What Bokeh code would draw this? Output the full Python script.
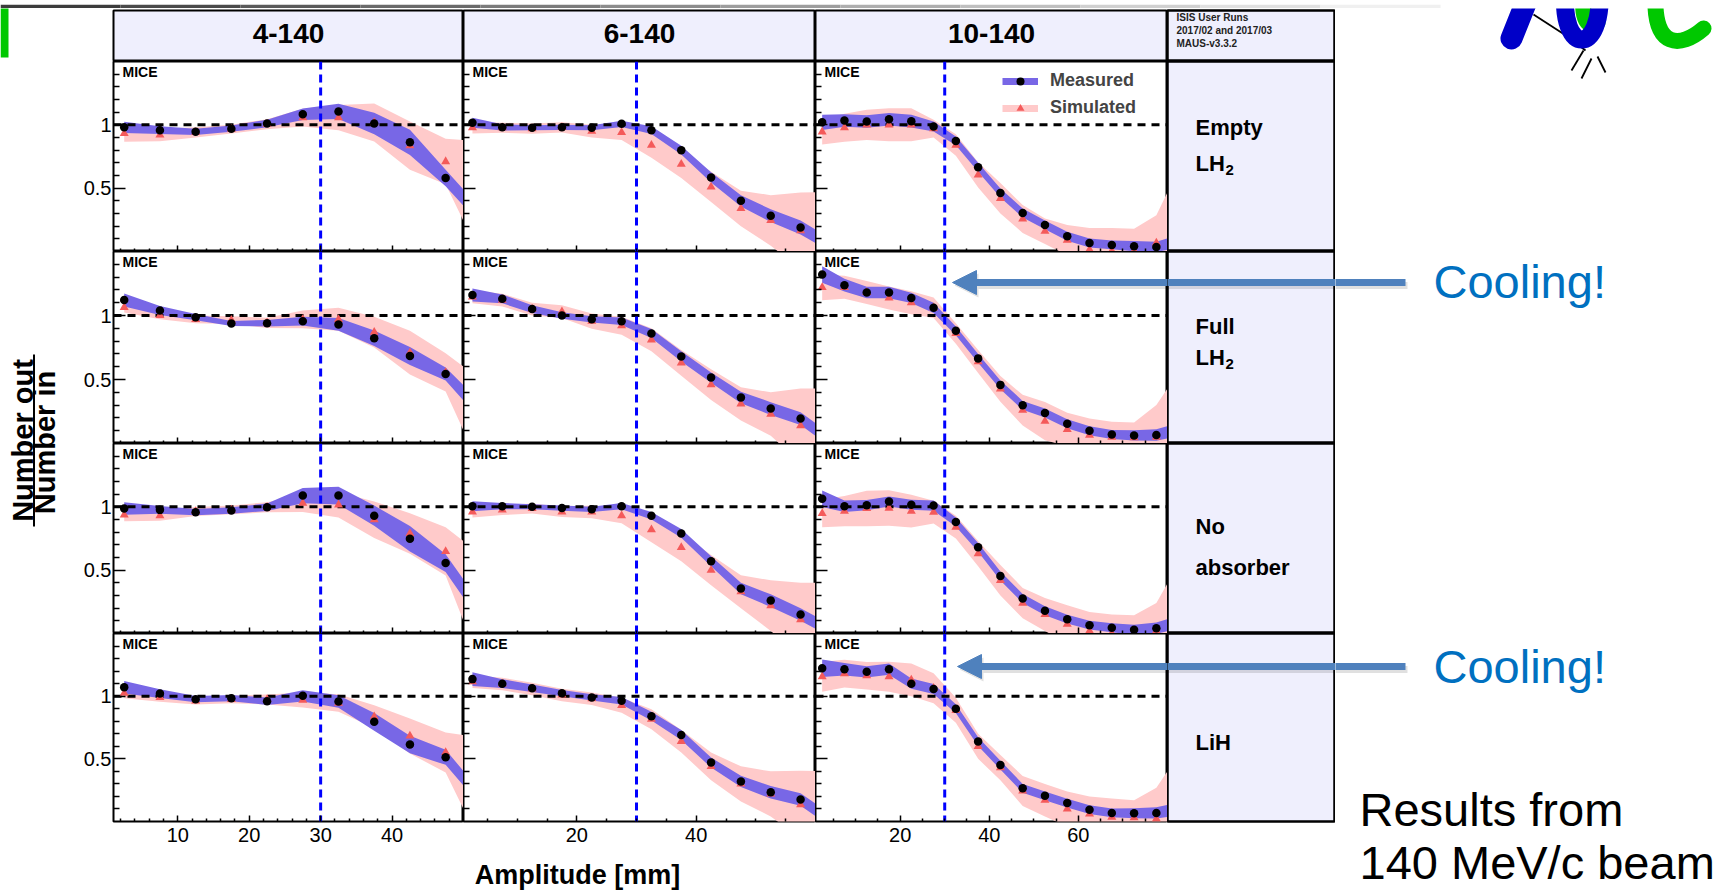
import numpy as np
from math import pi
from bokeh.plotting import figure
from bokeh.layouts import row, column
from bokeh.models import (Range1d, FixedTicker, CustomJSTickFormatter, Span, Label,
                          Arrow, NormalHead, Legend, LegendItem)
from bokeh.embed import file_html
from bokeh.resources import INLINE

# ---------------- data ----------------
column_titles = ["4-140", "6-140", "10-140"]
row_titles = [["Empty", "LH"], ["Full", "LH"], ["No", "absorber"], ["LiH"]]
row_subscripts = ["2", "2", "", ""]
header_note = ["ISIS User Runs", "2017/02 and 2017/03", "MAUS-v3.3.2"]

amp_4 = [2.5, 7.5, 12.5, 17.5, 22.5, 27.5, 32.5, 37.5, 42.5, 47.5, 52.5]
amp_6 = [2.5, 7.5, 12.5, 17.5, 22.5, 27.5, 32.5, 37.5, 42.5, 47.5, 52.5, 57.5, 62.5]
amp_10 = [2.5, 7.5, 12.5, 17.5, 22.5, 27.5, 32.5, 37.5, 42.5, 47.5, 52.5, 57.5,
          62.5, 67.5, 72.5, 77.5, 82.5]

# rows: Empty LH2, Full LH2, No absorber, LiH
meas_4 = [
    [0.98, 0.958, 0.945, 0.97, 1.01, 1.083, 1.106, 1.01, 0.862, 0.58, 0.27],
    [1.121, 1.039, 0.987, 0.938, 0.94, 0.956, 0.93, 0.822, 0.683, 0.543, 0.247],
    [0.987, 0.976, 0.958, 0.971, 0.997, 1.089, 1.089, 0.93, 0.748, 0.556, 0.154],
    [1.071, 1.021, 0.976, 0.984, 0.96, 1.003, 0.958, 0.795, 0.614, 0.512, 0.178],
]
meas_err_4 = [
    [0.045, 0.03, 0.025, 0.025, 0.03, 0.045, 0.06, 0.085, 0.1, 0.065, 0.065],
    [0.05, 0.035, 0.025, 0.02, 0.025, 0.035, 0.05, 0.06, 0.07, 0.05, 0.07],
    [0.05, 0.03, 0.025, 0.025, 0.03, 0.06, 0.07, 0.08, 0.1, 0.07, 0.075],
    [0.05, 0.035, 0.025, 0.025, 0.03, 0.045, 0.05, 0.07, 0.07, 0.06, 0.055],
]
sim_4 = [
    [0.932, 0.92, 0.94, 0.966, 1.005, 1.057, 1.057, 1.018, 0.836, 0.71, 0.41],
    [1.064, 1.0, 0.97, 0.964, 0.943, 0.97, 0.97, 0.87, 0.71, 0.556, 0.144],
    [0.937, 0.93, 0.963, 0.976, 0.997, 1.029, 1.016, 0.898, 0.79, 0.648, 0.18],
    [1.024, 0.99, 0.963, 0.974, 0.974, 0.969, 0.945, 0.837, 0.682, 0.551, 0.24],
]
sim_err_4 = [
    [0.065, 0.05, 0.04, 0.035, 0.04, 0.07, 0.1, 0.15, 0.19, 0.18, 0.46],
    [0.04, 0.03, 0.03, 0.03, 0.04, 0.07, 0.09, 0.12, 0.17, 0.15, 0.35],
    [0.05, 0.04, 0.035, 0.035, 0.04, 0.07, 0.1, 0.145, 0.16, 0.19, 0.44],
    [0.04, 0.035, 0.03, 0.03, 0.04, 0.06, 0.07, 0.09, 0.14, 0.16, 0.43],
]

meas_6 = [
    [1.016, 0.98, 0.977, 0.98, 0.977, 1.008, 0.958, 0.80, 0.585, 0.40, 0.283, 0.19, 0.05],
    [1.16, 1.13, 1.05, 1.0, 0.97, 0.955, 0.86, 0.68, 0.515, 0.36, 0.273, 0.195, 0.025],
    [1.005, 1.005, 1.0, 0.99, 0.98, 1.005, 0.93, 0.79, 0.57, 0.355, 0.26, 0.15, 0.024],
    [1.136, 1.10, 1.063, 1.024, 0.99, 0.963, 0.84, 0.69, 0.47, 0.32, 0.233, 0.176, 0.01],
]
meas_err_6 = [
    [0.04, 0.025, 0.02, 0.02, 0.02, 0.025, 0.03, 0.035, 0.04, 0.045, 0.05, 0.055, 0.05],
    [0.05, 0.035, 0.03, 0.025, 0.025, 0.03, 0.035, 0.04, 0.04, 0.045, 0.05, 0.05, 0.05],
    [0.04, 0.025, 0.02, 0.02, 0.02, 0.025, 0.03, 0.035, 0.04, 0.045, 0.05, 0.05, 0.05],
    [0.055, 0.035, 0.03, 0.025, 0.025, 0.03, 0.035, 0.04, 0.04, 0.045, 0.05, 0.05, 0.05],
]
sim_6 = [
    [0.977, 0.977, 0.97, 0.98, 0.95, 0.94, 0.84, 0.69, 0.51, 0.34, 0.245, 0.165, 0.1],
    [1.145, 1.12, 1.05, 1.03, 0.956, 0.92, 0.81, 0.63, 0.46, 0.31, 0.23, 0.14, 0.08],
    [0.96, 0.975, 0.987, 0.96, 0.96, 0.93, 0.82, 0.68, 0.50, 0.33, 0.22, 0.11, 0.08],
    [1.115, 1.097, 1.058, 1.01, 0.98, 0.927, 0.816, 0.64, 0.44, 0.30, 0.22, 0.134, 0.08],
]
sim_err_6 = [
    [0.045, 0.04, 0.04, 0.04, 0.05, 0.06, 0.1, 0.11, 0.12, 0.14, 0.2, 0.3, 0.37],
    [0.05, 0.05, 0.05, 0.05, 0.06, 0.07, 0.09, 0.1, 0.12, 0.13, 0.17, 0.29, 0.35],
    [0.045, 0.04, 0.04, 0.04, 0.05, 0.06, 0.1, 0.11, 0.12, 0.13, 0.2, 0.29, 0.32],
    [0.05, 0.05, 0.05, 0.05, 0.05, 0.06, 0.08, 0.09, 0.11, 0.14, 0.18, 0.27, 0.32],
]

meas_10 = [
    [1.02, 1.034, 1.026, 1.044, 1.029, 0.987, 0.873, 0.665, 0.462, 0.304, 0.21, 0.12,
     0.067, 0.052, 0.042, 0.036, 0.08],
    [1.32, 1.237, 1.18, 1.18, 1.137, 1.06, 0.88, 0.665, 0.458, 0.298, 0.239, 0.154,
     0.10, 0.071, 0.063, 0.066, 0.11],
    [1.063, 1.005, 1.013, 1.042, 1.016, 1.01, 0.88, 0.68, 0.454, 0.276, 0.18, 0.113,
     0.066, 0.045, 0.029, 0.042, 0.09],
    [1.223, 1.215, 1.194, 1.215, 1.10, 1.058, 0.90, 0.638, 0.45, 0.265, 0.205, 0.147,
     0.094, 0.068, 0.066, 0.068, 0.1],
]
meas_err_10 = [
    [0.06, 0.05, 0.05, 0.05, 0.05, 0.04, 0.035, 0.035, 0.035, 0.035, 0.035, 0.035,
     0.035, 0.035, 0.04, 0.04, 0.05],
    [0.065, 0.05, 0.045, 0.045, 0.04, 0.04, 0.035, 0.035, 0.035, 0.035, 0.035, 0.035,
     0.035, 0.035, 0.04, 0.045, 0.05],
    [0.065, 0.045, 0.04, 0.04, 0.04, 0.04, 0.035, 0.035, 0.035, 0.035, 0.035, 0.035,
     0.035, 0.035, 0.04, 0.045, 0.05],
    [0.07, 0.05, 0.045, 0.045, 0.04, 0.04, 0.035, 0.035, 0.035, 0.035, 0.035, 0.035,
     0.035, 0.035, 0.04, 0.045, 0.05],
]
sim_10 = [
    [0.945, 0.977, 1.0, 1.0, 1.0, 0.97, 0.84, 0.605, 0.42, 0.257, 0.16, 0.09,
     0.015, 0.005, 0.005, 0.067, 0.1],
    [1.22, 1.22, 1.18, 1.137, 1.10, 1.06, 0.86, 0.64, 0.427, 0.26, 0.175, 0.11,
     0.066, 0.05, 0.045, 0.05, 0.1],
    [0.948, 0.966, 0.987, 0.99, 0.966, 0.958, 0.84, 0.63, 0.42, 0.24, 0.15, 0.073,
     0.02, 0.0, 0.0, 0.02, 0.05],
    [1.155, 1.18, 1.163, 1.155, 1.13, 1.063, 0.887, 0.60, 0.43, 0.244, 0.17, 0.10,
     0.06, 0.034, 0.03, 0.02, 0.05],
]
sim_err_10 = [
    [0.1, 0.11, 0.12, 0.13, 0.13, 0.07, 0.085, 0.1, 0.12, 0.11, 0.1, 0.12,
     0.17, 0.18, 0.175, 0.22, 0.55],
    [0.1, 0.09, 0.09, 0.09, 0.09, 0.08, 0.08, 0.09, 0.1, 0.12, 0.15, 0.13,
     0.13, 0.12, 0.12, 0.25, 0.46],
    [0.11, 0.12, 0.14, 0.14, 0.13, 0.09, 0.09, 0.1, 0.12, 0.12, 0.13, 0.15,
     0.15, 0.15, 0.144, 0.22, 0.5],
    [0.12, 0.11, 0.11, 0.12, 0.13, 0.12, 0.1, 0.1, 0.1, 0.12, 0.13, 0.14,
     0.14, 0.15, 0.14, 0.25, 0.48],
]

x_ranges = [(1, 50), (1, 60), (1, 80)]
x_major = [[10, 20, 30, 40], [20, 40], [20, 40, 60]]
x_minor = [[2, 4, 6, 8, 12, 14, 16, 18, 22, 24, 26, 28, 32, 34, 36, 38, 42, 44, 46, 48],
           [5, 10, 15, 25, 30, 35, 45, 50, 55],
           [5, 10, 15, 25, 30, 35, 45, 50, 55, 65, 70, 75]]
y_major = [0.5, 1.0]
y_minor = [0.1, 0.2, 0.3, 0.4, 0.6, 0.7, 0.8, 0.9, 1.1, 1.2, 1.3, 1.4]
ratio_reference = 1.0
amplitude_reference = 30

amps = [amp_4, amp_6, amp_10]
meas_all = [meas_4, meas_6, meas_10]
meas_err_all = [meas_err_4, meas_err_6, meas_err_10]
sim_all = [sim_4, sim_6, sim_10]
sim_err_all = [sim_err_4, sim_err_6, sim_err_10]

# ---------------- style ----------------
PINK = "#ffcaca"
BLUE = "#7867e6"
RED = "#f45a5a"
LAVENDER = "#efeffd"
ARROW = "#4f81bd"
COOL = "#0070c0"
GREEN = "#00c800"
FONT = "Liberation Sans"

PAGE_W = 1722
TOP_H = 8
LEFT_W = 73
C1_BORDER = 40
FRAME_W = [350, 352, 352]
LAB_W = 168
RIGHT_W = PAGE_W - LEFT_W - C1_BORDER - sum(FRAME_W) - LAB_W
HEAD_H = 53
ROW_H = [190, 192, 190, 188]
BOTTOM_AX = 36
TITLE_H = 34
BODY_H = HEAD_H + sum(ROW_H) + BOTTOM_AX + TITLE_H


def blank(width, height, xr, yr, **kw):
    p = figure(width=width, height=height, x_range=Range1d(*xr), y_range=Range1d(*yr),
               x_axis_location=None, y_axis_location=None,
               output_backend="svg", toolbar_location=None, **kw)
    p.grid.visible = False
    p.border_fill_color = "white"
    return p


def add_arrow_piece(p, x0, x1, y, units="data", head=False, shadow_dy=3):
    kw = dict(start_units=units, end_units=units)
    sh = NormalHead(size=24, fill_color="black", fill_alpha=0.12, line_color=None) if head else None
    p.add_layout(Arrow(x_start=x0 + 2, y_start=y + shadow_dy, x_end=x1 + 2, y_end=y + shadow_dy,
                       line_color="black", line_alpha=0.12, line_width=7, end=sh, **kw))
    hd = NormalHead(size=24, fill_color=ARROW, line_color=ARROW) if head else None
    p.add_layout(Arrow(x_start=x0, y_start=y, x_end=x1, y_end=y, line_color=ARROW,
                       line_width=7, end=hd, **kw))


def make_panel(ci, ri):
    left = ci == 0
    bottom = ri == 3
    fw, fh = FRAME_W[ci], ROW_H[ri]
    p = figure(width=fw + (C1_BORDER if left else 0), height=fh + (BOTTOM_AX if bottom else 0),
               x_range=Range1d(*x_ranges[ci]), y_range=Range1d(0.0, 1.5),
               min_border_left=C1_BORDER if left else 0, min_border_right=0,
               min_border_top=0, min_border_bottom=BOTTOM_AX if bottom else 0,
               output_backend="svg", toolbar_location=None)
    p.grid.visible = False
    p.outline_line_color = "black"
    p.outline_line_width = 2
    p.border_fill_color = "white"
    p.background_fill_color = "white"

    x = np.array(amps[ci])
    m = np.array(meas_all[ci][ri]); me = np.array(meas_err_all[ci][ri])
    s = np.array(sim_all[ci][ri]); se = np.array(sim_err_all[ci][ri])

    p.varea(x=x, y1=s - se, y2=s + se, fill_color=PINK, level="image")
    p.varea(x=x, y1=m - me, y2=m + me, fill_color=BLUE, level="image")
    p.add_layout(Span(location=ratio_reference, dimension="width", line_color="black",
                      line_dash="8 6", line_width=3, level="underlay"))
    p.add_layout(Span(location=amplitude_reference, dimension="height", line_color="#0000ff",
                      line_dash="8 5", line_width=3, level="underlay"))
    sim_r = p.scatter(x, s, marker="triangle", size=9, fill_color=RED, line_color=None)
    meas_r = p.scatter(x, m, marker="circle", size=8.5, fill_color="black", line_color=None)

    empty = CustomJSTickFormatter(code="return ''")
    plain = CustomJSTickFormatter(code="return tick.toString()")
    xa, ya = p.xaxis[0], p.yaxis[0]
    xa.ticker = FixedTicker(ticks=x_major[ci], minor_ticks=x_minor[ci])
    ya.ticker = FixedTicker(ticks=y_major, minor_ticks=y_minor)
    for ax in (xa, ya):
        ax.axis_line_color = None
        ax.major_tick_out = 0
        ax.minor_tick_out = 0
        ax.major_tick_line_color = "black"
        ax.minor_tick_line_color = "black"
        ax.major_tick_line_width = 1.5
        ax.minor_tick_line_width = 1.5
        ax.major_label_text_font = FONT
        ax.major_label_text_font_size = "20px"
        ax.major_label_text_color = "black"
    ya.major_tick_in = 12
    ya.minor_tick_in = 6
    xa.major_tick_in = 6
    xa.minor_tick_in = 3
    if bottom:
        xa.formatter = plain
        xa.major_label_standoff = 6
    else:
        xa.formatter = empty
        xa.major_label_standoff = 0
    if left:
        ya.formatter = plain
        ya.major_label_standoff = 2
    else:
        ya.formatter = empty
        ya.major_label_standoff = 0

    p.add_layout(Label(x=9, y=fh - 10, x_units="screen", y_units="screen", text="MICE",
                       text_font=FONT, text_font_style="bold", text_font_size="14px",
                       text_color="black", text_baseline="alphabetic"))

    if ci == 2 and ri == 0:
        band_m = p.line(x=np.array([np.nan]), y=np.array([np.nan]), line_color=BLUE, line_width=7)
        band_s = p.line(x=np.array([np.nan]), y=np.array([np.nan]), line_color=PINK, line_width=7)
        legend = Legend(items=[LegendItem(label="Measured", renderers=[band_m, meas_r]),
                               LegendItem(label="Simulated", renderers=[band_s, sim_r])],
                        location=(187, 133), border_line_color=None,
                        background_fill_alpha=0, padding=0, margin=0, spacing=6,
                        glyph_width=36, glyph_height=20, label_height=20,
                        label_standoff=12, label_text_font=FONT,
                        label_text_font_style="bold", label_text_font_size="18px")
        p.add_layout(legend)
    if ci == 2 and ri in (1, 3):
        y_arrow = 161 if ri == 1 else 155
        x_tip = 137 if ri == 1 else 142
        add_arrow_piece(p, fw + 2, x_tip, y_arrow, units="screen", head=True, shadow_dy=-3)
    return p


def make_header(ci):
    left = ci == 0
    fw = FRAME_W[ci]
    p = blank(fw + (C1_BORDER if left else 0), HEAD_H, (0, fw), (HEAD_H - 2, 0),
              min_border_left=C1_BORDER if left else 0, min_border_right=0,
              min_border_top=2, min_border_bottom=0)
    p.background_fill_color = LAVENDER
    p.outline_line_color = "black"
    p.outline_line_width = 2
    p.add_layout(Label(x=fw / 2, y=23, text=column_titles[ci], text_font=FONT,
                       text_font_style="bold", text_font_size="28px", text_align="center",
                       text_baseline="middle", text_color="black"))
    return p


def make_note_header():
    p = blank(LAB_W, HEAD_H, (0, LAB_W), (HEAD_H - 2, 0), min_border_left=0,
              min_border_right=0, min_border_top=2, min_border_bottom=0)
    p.background_fill_color = LAVENDER
    p.outline_line_color = "black"
    p.outline_line_width = 2.5
    for k, t in enumerate(header_note):
        p.add_layout(Label(x=9, y=7 + 13 * k, text=t, text_font=FONT,
                           text_font_style="bold", text_font_size="10px",
                           text_baseline="middle", text_color="#222222"))
    return p


row_baselines = [[66, 102], [75, 106], [83, 124], [109]]


def make_label_cell(ri):
    fh = ROW_H[ri]
    bottom = ri == 3
    p = blank(LAB_W, fh + (BOTTOM_AX if bottom else 0), (0, LAB_W), (fh, 0),
              min_border_left=0, min_border_right=0, min_border_top=0,
              min_border_bottom=BOTTOM_AX if bottom else 0)
    p.background_fill_color = LAVENDER
    p.outline_line_color = "black"
    p.outline_line_width = 2.5
    for t, yb in zip(row_titles[ri], row_baselines[ri]):
        p.add_layout(Label(x=28, y=yb, text=t, text_font=FONT, text_font_style="bold",
                           text_font_size="22px", text_baseline="alphabetic",
                           text_color="black"))
    if row_subscripts[ri]:
        p.add_layout(Label(x=58, y=row_baselines[ri][1] + 6, text=row_subscripts[ri],
                           text_font=FONT, text_font_style="bold", text_font_size="15px",
                           text_baseline="alphabetic", text_color="black"))
    if ri in (1, 3):
        add_arrow_piece(p, -2, LAB_W + 2, 31 if ri == 1 else 33)
    return p


# top strip: slide decoration (grey bar, green corner)
top = blank(PAGE_W, TOP_H, (0, PAGE_W), (TOP_H, 0), min_border_left=0, min_border_right=0,
            min_border_top=0, min_border_bottom=0)
top.outline_line_color = None
top.background_fill_color = "white"
bar_greys = ["#3c3c3c", "#4a4a4a", "#5a5a5a", "#6a6a6a", "#7b7b7b", "#8c8c8c", "#9d9d9d",
             "#aeaeae", "#bfbfbf", "#d0d0d0", "#e1e1e1", "#f0f0f0"]
bar_edges = [0, 120, 240, 360, 480, 600, 720, 840, 960, 1080, 1200, 1320, 1440]
top.quad(left=bar_edges[:-1], right=bar_edges[1:], top=0, bottom=4, fill_color=bar_greys,
         line_color=None)
top.quad(left=[0], right=[36], top=[3.5], bottom=[8.5], fill_color=GREEN, line_color=None)

# left strip: y title
left = blank(LEFT_W, BODY_H, (0, LEFT_W), (BODY_H, 0), min_border_left=0,
             min_border_right=0, min_border_top=0, min_border_bottom=0)
left.outline_line_color = None
left.background_fill_color = "white"
left.quad(left=[0], right=[8], top=[-1], bottom=[49], fill_color=GREEN, line_color=None)
left.add_layout(Label(x=22, y=432, text="Number out", angle=pi / 2, text_font=FONT,
                      text_font_style="bold", text_font_size="29px", text_align="center",
                      text_baseline="middle", text_color="black"))
left.add_layout(Label(x=44, y=434, text="Number in", angle=pi / 2, text_font=FONT,
                      text_font_style="bold", text_font_size="29px", text_align="center",
                      text_baseline="middle", text_color="black"))
left.add_layout(Arrow(x_start=33.5, y_start=346, x_end=33.5, y_end=518, end=None,
                      line_color="black", line_width=2))

# right strip: annotations and logo sketch
right = blank(RIGHT_W, BODY_H, (0, RIGHT_W), (BODY_H, 0), min_border_left=0,
              min_border_right=0, min_border_top=0, min_border_bottom=0)
right.outline_line_color = None
right.background_fill_color = "white"
right.segment(x0=[198, 232, 248, 256, 262], y0=[6, 28, 42, 50, 48],
              x1=[232, 250, 236, 246, 270], y1=[28, 42, 62, 70, 64],
              line_color="black", line_width=1.8)
right.bezier(x0=[248, 320], y0=[-12, -12], x1=[262, 368], y1=[14, 20],
             cx0=[246, 318], cy0=[10, 40], cx1=[252, 345], cy1=[20, 40],
             line_color=GREEN, line_width=16, line_cap="round")
right.segment(x0=[192], y0=[-10], x1=[176], y1=[30], line_color="#0000c8", line_width=22,
              line_cap="round")
right.bezier(x0=[230], y0=[-20], x1=[264], y1=[-20], cx0=[224], cy0=[48], cx1=[268], cy1=[48],
             line_color="#0000c8", line_width=18, line_cap="round")
for ya, yt in ((274, 273), (658, 658)):
    add_arrow_piece(right, -2, 70, ya)
    right.add_layout(Label(x=98, y=yt, text="Cooling!", text_font=FONT, text_font_size="47px",
                           text_baseline="middle", text_color=COOL))
right.add_layout(Label(x=24, y=801, text="Results  from", text_font=FONT, text_font_size="47px",
                       text_baseline="alphabetic", text_color="black"))
right.add_layout(Label(x=24, y=854, text="140 MeV/c beam", text_font=FONT,
                       text_font_size="47px", text_baseline="alphabetic", text_color="black"))

# x title strip
mid_w = C1_BORDER + sum(FRAME_W) + LAB_W
title = blank(mid_w, TITLE_H, (0, mid_w), (TITLE_H, 0), min_border_left=0,
              min_border_right=0, min_border_top=0, min_border_bottom=0)
title.outline_line_color = None
title.background_fill_color = "white"
title.add_layout(Label(x=504, y=17, text="Amplitude [mm]", text_font=FONT,
                       text_font_style="bold", text_font_size="27px", text_align="center",
                       text_baseline="alphabetic", text_color="black"))

rows_layout = [row(*[make_header(c) for c in range(3)], make_note_header())]
for r in range(4):
    rows_layout.append(row(*[make_panel(c, r) for c in range(3)], make_label_cell(r)))
rows_layout.append(title)
middle = column(*rows_layout)

page = column(top, row(left, middle, right))
open("out.html", "w").write(file_html(page, INLINE, title="MICE amplitude ratio"))
